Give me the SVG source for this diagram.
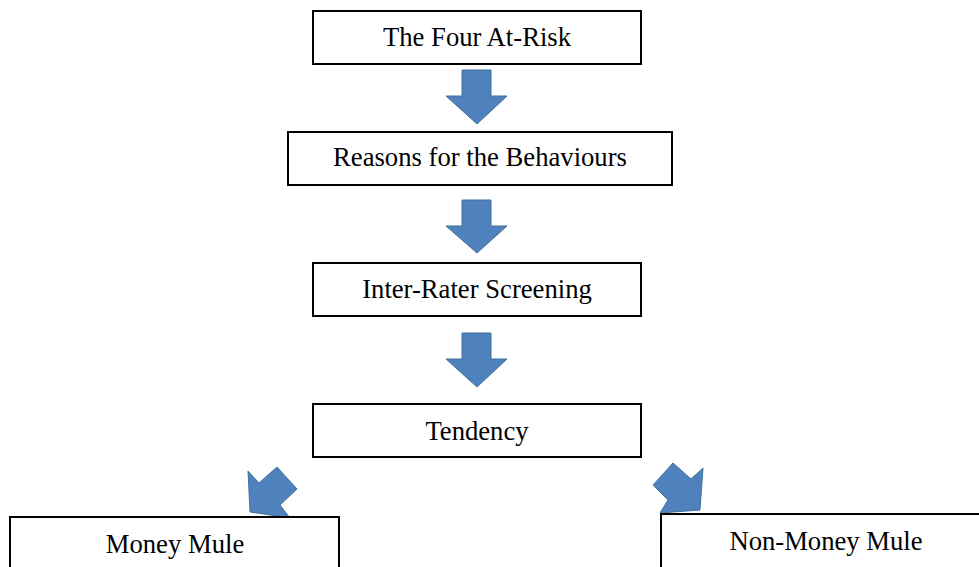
<svg xmlns="http://www.w3.org/2000/svg" width="979" height="567" viewBox="0 0 979 567">
<style>
.box{fill:#fff;stroke:#000;stroke-width:2}
.lbl{font-family:"Liberation Serif","Times New Roman",serif;font-size:26.67px;fill:#000;text-anchor:middle}
.arr{fill:#4F81BD;stroke:#41719C;stroke-width:1}
</style>
<rect width="979" height="567" fill="#fff"/>
<g id="connectors">
<polygon class="arr" points="462,70 491,70 491,96 507,96 477,124 446,96 462,96"/>
<polygon class="arr" points="462,200 491,200 491,226 507,226 477,253 446,226 462,226"/>
<polygon class="arr" points="462,333 491,333 491,359 507,359 477,387 446,359 462,359"/>
<polygon class="arr" points="277,467 297,489 280,505 290,518 250,512 248,471 259,483"/>
<polygon class="arr" points="673,463 653,485 668,500 660,513 700,510 703,468 691,479"/>
</g>
<g id="n1"><rect class="box" x="313" y="11" width="328" height="53"/><text class="lbl" x="477" y="46">The Four At-Risk</text></g>
<g id="n2"><rect class="box" x="288" y="132" width="384" height="53"/><text class="lbl" x="480" y="166">Reasons for the Behaviours</text></g>
<g id="n3"><rect class="box" x="313" y="263" width="328" height="53"/><text class="lbl" x="477" y="298">Inter-Rater Screening</text></g>
<g id="n4"><rect class="box" x="313" y="404" width="328" height="53"/><text class="lbl" x="477" y="440">Tendency</text></g>
<g id="n5"><rect class="box" x="10" y="517" width="329" height="60"/><text class="lbl" x="175" y="553">Money Mule</text></g>
<g id="n6"><rect class="box" x="661" y="514" width="330" height="60"/><text class="lbl" x="826" y="550">Non-Money Mule</text></g>
</svg>
